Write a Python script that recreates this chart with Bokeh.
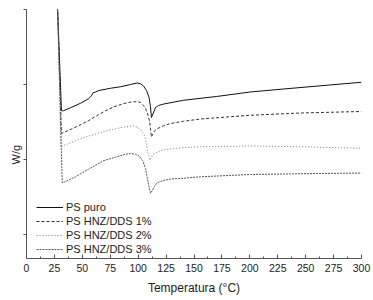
from bokeh.plotting import figure
from bokeh.models import FixedTicker, Title
from bokeh.embed import file_html
from bokeh.resources import INLINE

FONT = "Liberation Sans"

# Temperature (°C) and heat flow (W/g, arbitrary offsets)
t_puro = [27.8, 31.3, 33.1, 39.4, 48.4, 55.5, 58.2, 59.6, 61.8, 64.8, 75.2, 84.2, 93.1,
          99.1, 102.1, 104.8, 107.5, 109.7, 111.0, 111.9, 113.3, 115.5, 118.2, 123.0,
          140.6, 170.1, 200.3, 230.1, 300.0]
w_puro = [4.03, 2.65, 2.65, 2.69, 2.75, 2.81, 2.85, 2.89, 2.90, 2.92, 2.95, 2.97, 3.00,
          3.02, 3.01, 2.98, 2.92, 2.83, 2.71, 2.56, 2.61, 2.69, 2.72, 2.74,
          2.79, 2.84, 2.90, 2.94, 3.03]

t_1 = [27.8, 31.3, 33.1, 37.9, 46.6, 55.8, 63.6, 70.8, 77.9, 85.7, 91.3, 96.1, 99.4,
       102.1, 104.8, 106.6, 108.8, 110.2, 111.2, 111.8, 112.8, 114.6, 117.0, 122.7,
       129.0, 140.6, 155.8, 200.6, 245.4, 300.0]
w_1 = [4.03, 2.35, 2.36, 2.39, 2.45, 2.52, 2.59, 2.65, 2.70, 2.74, 2.76, 2.77, 2.77,
       2.76, 2.72, 2.68, 2.59, 2.51, 2.39, 2.30, 2.33, 2.38, 2.41, 2.45,
       2.48, 2.51, 2.54, 2.59, 2.62, 2.64]

t_2 = [27.8, 30.9, 32.2, 43.9, 52.8, 61.8, 70.8, 79.7, 86.0, 91.6, 95.8, 99.1, 102.1,
       105.0, 106.6, 108.1, 109.5, 110.4, 111.9, 113.7, 117.0, 122.7, 129.0, 140.6,
       155.8, 200.6, 245.4, 300.0]
w_2 = [4.03, 2.16, 2.18, 2.25, 2.30, 2.34, 2.38, 2.41, 2.43, 2.44, 2.45, 2.43, 2.40,
       2.34, 2.27, 2.14, 2.05, 1.99, 2.03, 2.07, 2.10, 2.13, 2.14, 2.16,
       2.17, 2.18, 2.17, 2.15]

t_3 = [27.8, 32.0, 34.0, 43.9, 55.5, 66.3, 68.1, 79.7, 88.7, 93.1, 97.6, 100.6, 103.9,
       106.6, 108.1, 109.7, 111.0, 112.8, 114.6, 117.0, 122.7, 129.0, 140.6, 155.8,
       200.6, 245.4, 300.0]
w_3 = [4.03, 1.69, 1.70, 1.77, 1.87, 1.96, 1.98, 2.03, 2.07, 2.08, 2.07, 2.05, 1.99,
       1.88, 1.76, 1.64, 1.55, 1.59, 1.64, 1.69, 1.72, 1.74, 1.75, 1.77,
       1.80, 1.81, 1.82]

series_labels = ["PS puro", "PS HNZ/DDS 1%", "PS HNZ/DDS 2%", "PS HNZ/DDS 3%"]
x_ticks = [0, 25, 50, 75, 100, 125, 150, 175, 200, 225, 250, 275, 300]
x_minor = [12.5, 37.5, 62.5, 87.5, 112.5, 137.5, 162.5, 187.5, 212.5, 237.5, 262.5, 287.5]
y_ticks = [1, 2, 3, 4]

p = figure(width=373, height=300, x_range=(0, 300), y_range=(0.68, 4.0),
           output_backend="svg", toolbar_location=None,
           min_border_left=26, min_border_right=12, min_border_top=9, min_border_bottom=42)
p.xgrid.visible = False
p.ygrid.visible = False
p.outline_line_color = None
p.background_fill_color = "white"

styles = [
    dict(color="#111111", dash="solid"),
    dict(color="#333333", dash="3 2"),
    dict(color="#777777", dash="1 2"),
    dict(color="#555555", dash="2 1"),
]
data = [(t_puro, w_puro), (t_1, w_1), (t_2, w_2), (t_3, w_3)]
for (xs, ys), st, lab in zip(data, styles, series_labels):
    p.line(xs, ys, line_color=st["color"], line_dash=st["dash"], line_width=1,
           legend_label=lab)

xa = p.xaxis[0]
xa.ticker = FixedTicker(ticks=x_ticks, minor_ticks=x_minor)
xa.axis_label = "Temperatura (°C)"
xa.axis_label_text_font = FONT
xa.axis_label_text_font_size = "12px"
xa.axis_label_text_font_style = "normal"
xa.axis_label_text_color = "#222222"
xa.axis_label_standoff = 6
xa.major_label_text_font = FONT
xa.major_label_text_font_size = "10.5px"
xa.major_label_text_color = "#222222"
xa.major_label_standoff = 5
xa.major_tick_in = 4
xa.major_tick_out = 0
xa.minor_tick_in = 2
xa.minor_tick_out = 0
xa.axis_line_color = "#555555"
xa.major_tick_line_color = "#555555"
xa.minor_tick_line_color = "#555555"

ya = p.yaxis[0]
ya.ticker = FixedTicker(ticks=y_ticks, minor_ticks=[])
ya.major_label_overrides = {1: "", 2: "", 3: "", 4: ""}
ya.major_label_standoff = 0
ya.major_tick_in = 0
ya.major_tick_out = 3
ya.axis_line_color = "#555555"
ya.major_tick_line_color = "#555555"

ylab = Title(text="W/g", align="left", offset=94, standoff=4,
             text_font=FONT, text_font_size="11px", text_font_style="normal",
             text_color="#222222")
p.add_layout(ylab, "left")

lg = p.legend[0]
lg.location = (10, 2)
lg.label_text_font = FONT
lg.label_text_font_size = "11px"
lg.label_text_color = "#222222"
lg.label_height = 14
lg.glyph_height = 14
lg.glyph_width = 27
lg.label_standoff = 3
lg.spacing = 0
lg.padding = 0
lg.margin = 0
lg.border_line_color = None
lg.background_fill_alpha = 0

open("out.html", "w").write(file_html(p, INLINE))
